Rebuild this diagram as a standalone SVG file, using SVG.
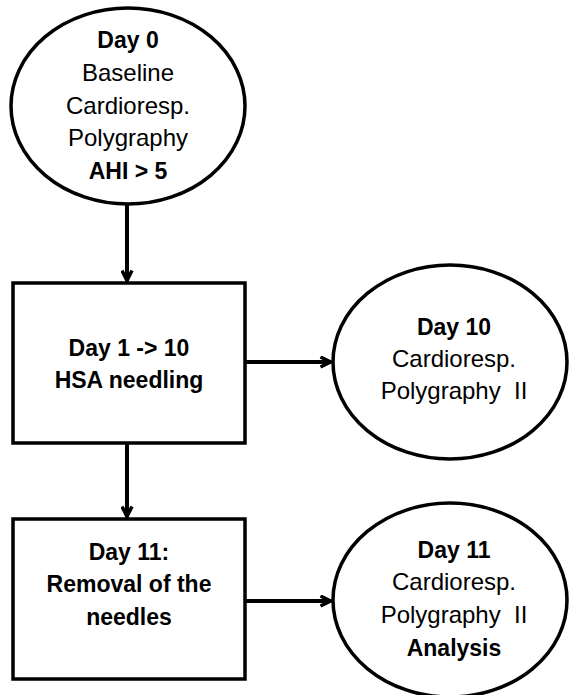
<svg xmlns="http://www.w3.org/2000/svg" width="570" height="695" viewBox="0 0 570 695">
  <style>
    .shape { fill: #ffffff; stroke: #000000; stroke-width: 3.5; }
    .edge { fill: none; stroke: #000000; stroke-width: 4; }
    text { font-family: "Liberation Sans", Arial, sans-serif; font-size: 24px; fill: #000000; text-anchor: middle; white-space: pre; }
    .b { font-weight: bold; font-size: 23px; }
  </style>
  <defs>
    <marker id="arrow" viewBox="0 0 13 13" refX="12" refY="6.5" markerWidth="13" markerHeight="13" markerUnits="userSpaceOnUse" orient="auto">
      <path d="M1.5,1.5 L11.5,6.5 L1.5,11.5" fill="none" stroke="#000000" stroke-width="3.5" stroke-linejoin="miter"/>
    </marker>
  </defs>
  <rect width="570" height="695" fill="#ffffff"/>

  <g id="connectors">
    <line class="edge" x1="127" y1="204" x2="127" y2="281" marker-end="url(#arrow)"/>
    <line class="edge" x1="245" y1="362" x2="331" y2="362" marker-end="url(#arrow)"/>
    <line class="edge" x1="127" y1="443" x2="127" y2="517" marker-end="url(#arrow)"/>
    <line class="edge" x1="245" y1="601" x2="331" y2="601" marker-end="url(#arrow)"/>
  </g>

  <g id="day0">
    <ellipse class="shape" cx="128" cy="106" rx="117" ry="98"/>
    <text x="128" y="48" class="b">Day 0</text>
    <text x="128" y="81">Baseline</text>
    <text x="128" y="114">Cardioresp.</text>
    <text x="128" y="146">Polygraphy</text>
    <text x="128" y="179" class="b">AHI &gt; 5</text>
  </g>

  <g id="needling">
    <rect class="shape" x="13" y="283" width="232" height="160"/>
    <text x="129" y="356" class="b">Day 1 -&gt; 10</text>
    <text x="129" y="388" class="b">HSA needling</text>
  </g>

  <g id="day10">
    <ellipse class="shape" cx="450" cy="362" rx="117" ry="97"/>
    <text x="454" y="335" class="b">Day 10</text>
    <text x="454" y="367">Cardioresp.</text>
    <text x="454" y="399" xml:space="preserve">Polygraphy  II</text>
  </g>

  <g id="removal">
    <rect class="shape" x="13" y="519" width="232" height="160"/>
    <text x="129" y="560" class="b">Day 11:</text>
    <text x="129" y="592" class="b">Removal of the</text>
    <text x="129" y="625" class="b">needles</text>
  </g>

  <g id="day11">
    <ellipse class="shape" cx="450" cy="600" rx="117" ry="97"/>
    <text x="454" y="558" class="b">Day 11</text>
    <text x="454" y="590">Cardioresp.</text>
    <text x="454" y="623" xml:space="preserve">Polygraphy  II</text>
    <text x="454" y="656" class="b">Analysis</text>
  </g>
</svg>
